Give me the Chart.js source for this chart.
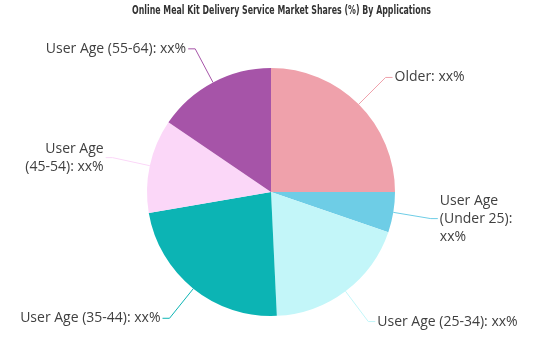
<!DOCTYPE html>
<html>
<head>
<meta charset="utf-8">
<script src="https://cdn.jsdelivr.net/npm/chart.js@4.4.0/dist/chart.umd.min.js"></script>
<style>
html,body{margin:0;padding:0;background:#fff;}
#wrap{width:539px;height:359px;position:relative;}
</style>
</head>
<body>
<div id="wrap"><canvas id="c" width="539" height="359"></canvas></div>
<script>
const titleText = "Online Meal Kit Delivery Service Market Shares (%) By Applications";
const categories = ["Older", "User Age (Under 25)", "User Age (25-34)", "User Age (35-44)", "User Age (45-54)", "User Age (55-64)"];
const shares = [25.0, 5.25, 19.0, 23.05, 12.2, 15.5];
const valueLabels = ["xx%", "xx%", "xx%", "xx%", "xx%", "xx%"];
const colors = ["#EFA1AB", "#6ECDE6", "#C3F6F9", "#0CB4B4", "#FBD7F8", "#A654A8"];

const FONT = '14px "Open Sans", "DejaVu Sans", sans-serif';
const TEXT_COLOR = '#404040';

function wrapText(ctx, text, maxW) {
  const words = text.split(' ');
  const lines = [];
  let cur = '';
  for (const w of words) {
    const test = cur ? cur + ' ' + w : w;
    if (ctx.measureText(test).width > maxW && cur) {
      lines.push(cur);
      cur = w;
    } else cur = test;
  }
  if (cur) lines.push(cur);
  return lines;
}

const outLabels = {
  id: 'outLabels',
  afterDraw(chart) {
    const ctx = chart.ctx;
    const meta = chart.getDatasetMeta(0);
    const W = chart.width;
    ctx.save();
    ctx.font = FONT;
    meta.data.forEach((arc, i) => {
      const p = arc.getProps(['x','y','startAngle','endAngle','outerRadius'], true);
      const mid = (p.startAngle + p.endAngle) / 2;
      const cx = Math.cos(mid), cy = Math.sin(mid);
      const x0 = p.x + cx * p.outerRadius, y0 = p.y + cy * p.outerRadius;
      const ext = 38;
      const x1 = p.x + cx * (p.outerRadius + ext), y1 = p.y + cy * (p.outerRadius + ext);
      const right = cx >= 0;
      const x2 = x1 + (right ? 7 : -7);
      ctx.strokeStyle = colors[i];
      ctx.lineWidth = 1;
      ctx.beginPath();
      ctx.moveTo(x0, y0); ctx.lineTo(x1, y1); ctx.lineTo(x2, y1);
      ctx.stroke();
      const tx = x2 + (right ? 2 : -2);
      const space = right ? (W - tx) : tx;
      const text = categories[i] + ': ' + valueLabels[i];
      const lines = wrapText(ctx, text, space - 12);
      const lh = 18;
      ctx.fillStyle = TEXT_COLOR;
      ctx.textAlign = right ? 'left' : 'right';
      ctx.textBaseline = 'middle';
      const top = y1 - (lines.length - 1) * lh / 2;
      lines.forEach((ln, k) => ctx.fillText(ln, tx, top + k * lh));
    });
    // title, condensed to the reference width
    ctx.font = 'bold 13px "DejaVu Sans", sans-serif';
    ctx.fillStyle = '#333333';
    ctx.textAlign = 'center';
    ctx.textBaseline = 'middle';
    const tw = ctx.measureText(titleText).width;
    const sx = Math.min(1, 299 / tw);
    ctx.translate(281.5, 11);
    ctx.scale(sx, 1);
    ctx.fillText(titleText, 0, 0);
    ctx.restore();
  }
};

new Chart(document.getElementById('c'), {
  type: 'pie',
  data: {
    labels: categories,
    datasets: [{
      data: shares,
      backgroundColor: colors,
      borderWidth: 0
    }]
  },
  options: {
    responsive: false,
    animation: false,
    layout: { padding: { top: 68, bottom: 43, left: 147, right: 144 } },
    plugins: { legend: { display: false }, tooltip: { enabled: false }, title: { display: false } }
  },
  plugins: [outLabels]
});
</script>
</body>
</html>
